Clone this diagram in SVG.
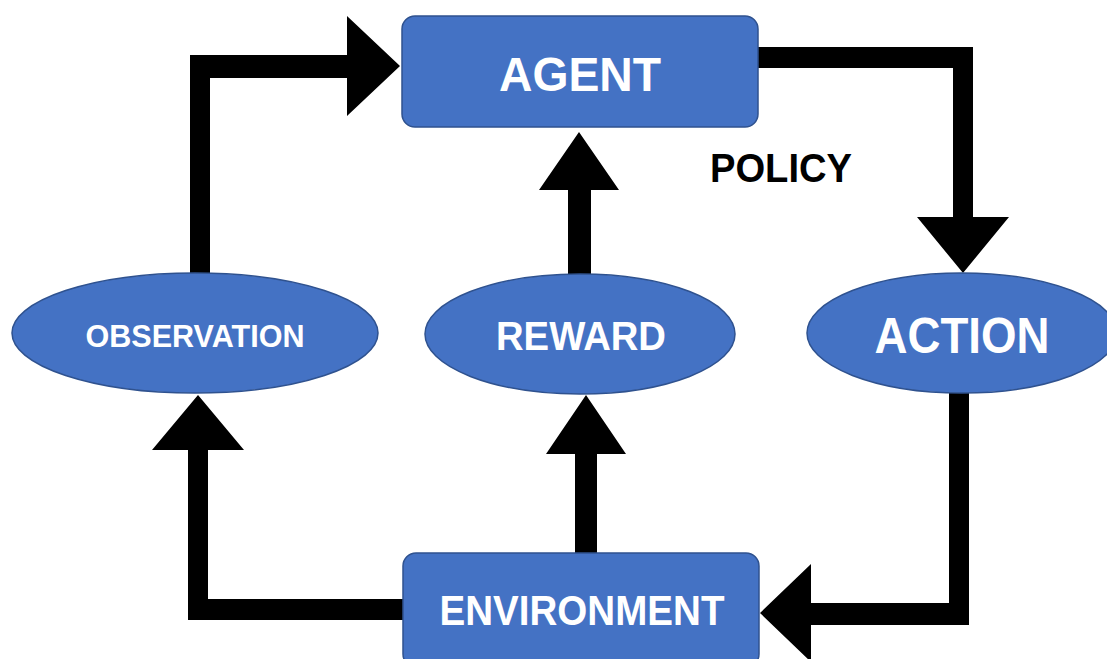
<svg xmlns="http://www.w3.org/2000/svg" width="1107" height="659" viewBox="0 0 1107 659">
  <style>
    .node { fill: #4472C4; stroke: #2F528F; stroke-width: 1.5; }
    .lbl { fill: #FFFFFF; font-family: "Liberation Sans", Arial, sans-serif; font-weight: bold; text-anchor: middle; }
    .arrow { fill: #000000; stroke: none; }
    .plain { fill: #000000; font-family: "Liberation Sans", Arial, sans-serif; font-weight: bold; }
  </style>
  <rect width="1107" height="659" fill="#FFFFFF"/>
  <g id="connectors">
    <polygon class="arrow" points="190,273 190,55 347,55 347,16 400,66 347,116 347,78 210,78 210,273"/>
    <polygon class="arrow" points="758,47 973,47 973,217 1009,217 963,273 917,217 953,217 953,68 758,68"/>
    <polygon class="arrow" points="568,274 568,190 539,190 579,132 619,190 591,190 591,274"/>
    <polygon class="arrow" points="575,553 575,454 546,454 586,395 626,454 597,454 597,553"/>
    <polygon class="arrow" points="403,599 208,599 208,450 244,450 198,395 152,450 188,450 188,620 403,620"/>
    <polygon class="arrow" points="949,393 949,603 811,603 811,564 760,613 811,662 811,625 969,625 969,393"/>
  </g>
  <g id="agent">
    <rect class="node" x="402" y="16" width="356" height="111" rx="13"/>
    <text class="lbl" x="580" y="91" font-size="48" textLength="162" lengthAdjust="spacingAndGlyphs">AGENT</text>
  </g>
  <g id="policy">
    <text class="plain" x="710" y="182" font-size="40" textLength="142" lengthAdjust="spacingAndGlyphs">POLICY</text>
  </g>
  <g id="observation">
    <ellipse class="node" cx="195" cy="333" rx="183" ry="60"/>
    <text class="lbl" x="195" y="347" font-size="31" textLength="219" lengthAdjust="spacingAndGlyphs">OBSERVATION</text>
  </g>
  <g id="reward">
    <ellipse class="node" cx="580" cy="334" rx="155" ry="60"/>
    <text class="lbl" x="581" y="350" font-size="40" textLength="170" lengthAdjust="spacingAndGlyphs">REWARD</text>
  </g>
  <g id="action">
    <ellipse class="node" cx="962" cy="333" rx="155" ry="60"/>
    <text class="lbl" x="962" y="353" font-size="50" textLength="175" lengthAdjust="spacingAndGlyphs">ACTION</text>
  </g>
  <g id="environment">
    <rect class="node" x="403" y="553" width="356" height="114" rx="13"/>
    <text class="lbl" x="582" y="625" font-size="42" textLength="285" lengthAdjust="spacingAndGlyphs">ENVIRONMENT</text>
  </g>
</svg>
